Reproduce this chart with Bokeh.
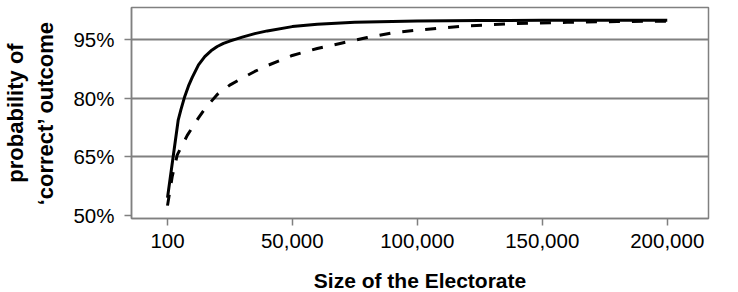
from bokeh.plotting import figure
from bokeh.models import Range1d, FixedTicker, NumeralTickFormatter
from bokeh.embed import file_html
from bokeh.resources import INLINE

# Data
size_solid = [100, 4400, 5500, 7000, 8500, 10000, 12500, 15000, 17500, 20000,
              22500, 25000, 27500, 30000, 35000, 40000, 50000, 60000, 75000,
              100000, 125000, 150000, 175000, 200000]
prob_solid = [54.5, 74.5, 77.2, 80.5, 83.2, 85.4, 88.6, 90.7, 92.2, 93.3,
              94.1, 94.7, 95.2, 95.7, 96.6, 97.3, 98.4, 99.0, 99.5,
              99.85, 99.95, 100.0, 100.0, 100.0]

size_dashed = [100, 2000, 4000, 6000, 8000, 10000, 12500, 15000, 20000, 25000,
               30000, 35000, 40000, 50000, 60000, 70000, 80000, 90000, 100000,
               120000, 140000, 160000, 180000, 200000]
prob_dashed = [52.5, 60.0, 65.5, 68.0, 70.5, 72.5, 75.0, 77.3, 81.0, 83.4,
               85.2, 86.9, 88.4, 91.0, 92.8, 94.2, 95.6, 96.8, 97.5,
               98.6, 99.2, 99.5, 99.7, 99.8]

x_ticks = [100, 50000, 100000, 150000, 200000]
y_ticks = [50, 65, 80, 95]
y_tick_labels = ["50%", "65%", "80%", "95%"]
y_grid = [65, 80, 95]

GRAY = "#808080"
FONT = "Liberation Sans"

p = figure(
    output_backend="svg", toolbar_location=None,
    frame_width=577, frame_height=211,
    min_border_left=130, min_border_right=23, min_border_top=7, min_border_bottom=66,
    x_range=Range1d(-14300, 216500), y_range=Range1d(49.2, 103.3),
    background_fill_color="white", border_fill_color="white",
)

p.outline_line_color = GRAY
p.outline_line_width = 1.5

p.xgrid.visible = False
p.ygrid.ticker = FixedTicker(ticks=y_grid)
p.ygrid.grid_line_color = GRAY
p.ygrid.grid_line_width = 2

p.line(size_solid, prob_solid, line_color="black", line_width=3)
p.line(size_dashed, prob_dashed, line_color="black", line_width=3, line_dash="11 12")

xa = p.xaxis[0]
xa.ticker = FixedTicker(ticks=x_ticks)
xa.formatter = NumeralTickFormatter(format="0,0")
xa.axis_label = "Size of the Electorate"

ya = p.yaxis[0]
ya.ticker = FixedTicker(ticks=y_ticks)
ya.major_label_overrides = dict(zip(y_ticks, y_tick_labels))
ya.axis_label = "probability of\n\u2018correct\u2019 outcome"

for ax in (xa, ya):
    ax.axis_line_color = GRAY
    ax.axis_line_width = 1.5
    ax.major_tick_line_color = GRAY
    ax.major_tick_line_width = 1.5
    ax.major_tick_in = 0
    ax.major_tick_out = 7
    ax.minor_tick_line_color = None
    ax.major_label_text_font = FONT
    ax.major_label_text_font_size = "20.5px"
    ax.major_label_text_color = "black"
    ax.axis_label_text_font = FONT
    ax.axis_label_text_font_style = "bold"
    ax.axis_label_text_color = "black"

xa.axis_label_text_font_size = "21px"
ya.axis_label_text_font_size = "22px"
ya.major_label_standoff = 10
xa.major_label_standoff = 8
xa.axis_label_standoff = 18
ya.axis_label_standoff = 12

open("out.html", "w").write(file_html(p, INLINE))
